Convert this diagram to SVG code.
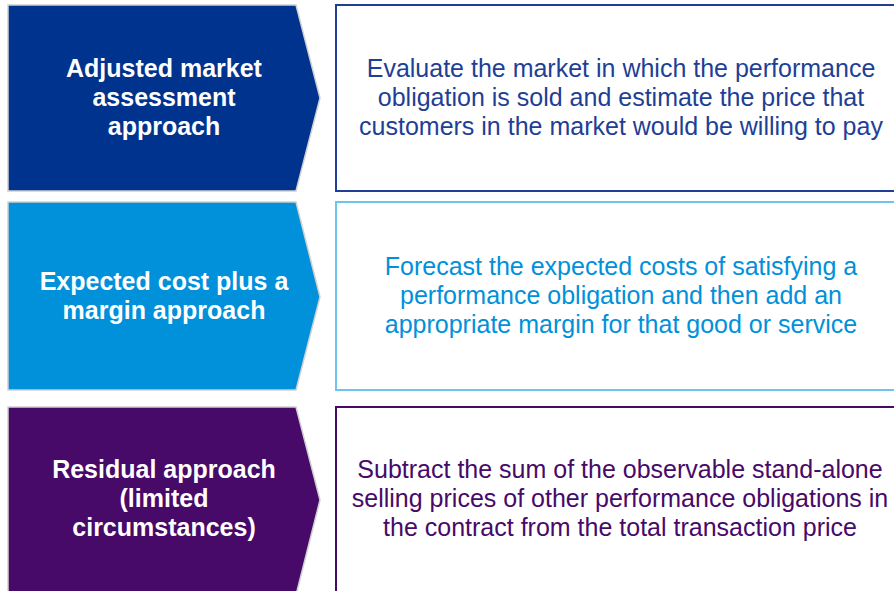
<svg xmlns="http://www.w3.org/2000/svg" width="894" height="591" viewBox="0 0 894 591">
<style>
.chev{stroke:#d0d0d0;stroke-width:1.5}
.box{fill:#fff;stroke-width:2}
.lt{font-family:"Liberation Sans",Arial,sans-serif;font-size:25px;font-weight:bold;fill:#fff;text-anchor:middle}
.rt{font-family:"Liberation Sans",Arial,sans-serif;font-size:25px;text-anchor:middle}
</style>
<rect width="894" height="591" fill="#fff"/>
<g id="row1-label">
<polygon class="chev" fill="#00338D" points="8,5 296,5 320,98 296,191 8,191"/>
<text class="lt" x="164" y="77">Adjusted market</text>
<text class="lt" x="164" y="106">assessment</text>
<text class="lt" x="164" y="135">approach</text>
</g>
<g id="row1-desc">
<rect class="box" x="336" y="5" width="570" height="186" stroke="#1E3F95"/>
<text class="rt" fill="#1E3F95" x="621" y="77">Evaluate the market in which the performance</text>
<text class="rt" fill="#1E3F95" x="621" y="106">obligation is sold and estimate the price that</text>
<text class="rt" fill="#1E3F95" x="621" y="135">customers in the market would be willing to pay</text>
</g>
<g id="row2-label">
<polygon class="chev" fill="#0091DA" stroke="#dcecf5" stroke-width="1.5" points="8,202 296,202 320,297 296,390 8,390"/>
<text class="lt" x="164" y="290">Expected cost plus a</text>
<text class="lt" x="164" y="319">margin approach</text>
</g>
<g id="row2-desc">
<rect class="box" x="336" y="202" width="570" height="188" stroke="#6CC5EE"/>
<text class="rt" fill="#0091DA" x="621" y="275">Forecast the expected costs of satisfying a</text>
<text class="rt" fill="#0091DA" x="621" y="304">performance obligation and then add an</text>
<text class="rt" fill="#0091DA" x="621" y="333">appropriate margin for that good or service</text>
</g>
<g id="row3-label">
<polygon class="chev" fill="#470A68" points="8,407 296,407 320,500 296,595 8,595"/>
<text class="lt" x="164" y="478">Residual approach</text>
<text class="lt" x="164" y="507">(limited</text>
<text class="lt" x="164" y="536">circumstances)</text>
</g>
<g id="row3-desc">
<rect class="box" x="336" y="407" width="570" height="190" stroke="#470A68"/>
<text class="rt" fill="#470A68" x="620" y="478">Subtract the sum of the observable stand-alone</text>
<text class="rt" fill="#470A68" x="620" y="507">selling prices of other performance obligations in</text>
<text class="rt" fill="#470A68" x="620" y="536">the contract from the total transaction price</text>
</g>
<g id="connectors"></g>
</svg>
